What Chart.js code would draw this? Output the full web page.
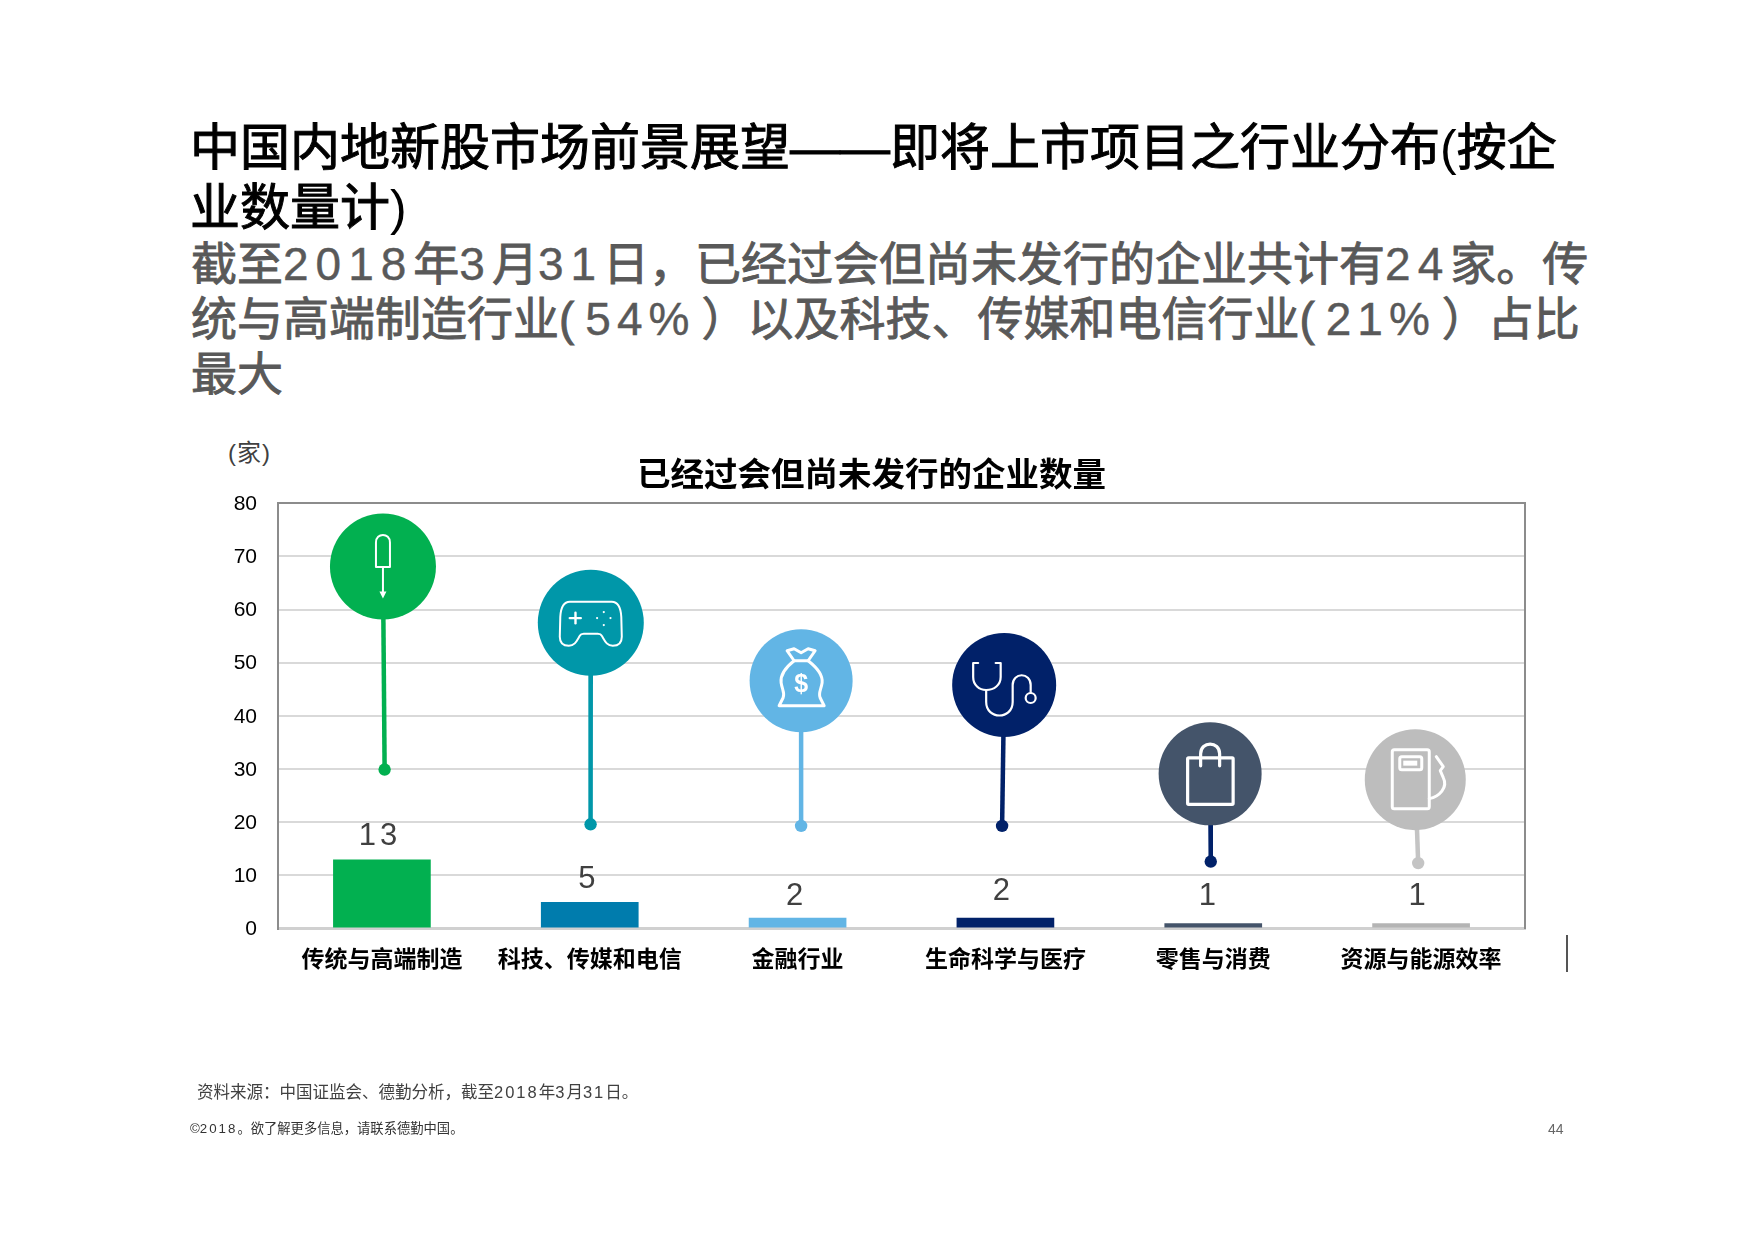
<!DOCTYPE html>
<html lang="zh">
<head>
<meta charset="utf-8">
<title>中国内地新股市场前景展望</title>
<script src="https://cdn.jsdelivr.net/npm/chart.js@4"></script>
<style>
    html, body { margin: 0; padding: 0; background: #fff; }
    #page { position: relative; width: 1754px; height: 1240px; overflow: hidden; font-family: 'Liberation Sans', 'Noto Sans CJK SC', sans-serif; }
    #chart { position: absolute; left: 0; top: 0; }
    .txt { position: absolute; white-space: nowrap; }
    .title { left: 190px; font-size: 50px; line-height: 60px; color: #000; -webkit-text-stroke: 1px #000; }
    .title span { -webkit-text-stroke: 0; }
    .sub { left: 191px; font-size: 46px; line-height: 56px; color: #595959; -webkit-text-stroke: 0.9px #595959; }
    .sub span { letter-spacing: 7px; -webkit-text-stroke: 0.4px #595959; }
    .sub span.pct { letter-spacing: 6px; padding-left: 11px; padding-right: 6px; }
    .note span { letter-spacing: 2px; }
</style>
</head>
<body>
<div id="page">
    <div class="txt title" style="top:118px">中国内地新股市场前景展望——即将上市项目之行业分布<span>(</span>按企</div>
    <div class="txt title" style="top:178px">业数量计<span>)</span></div>
    <div class="txt sub" style="top:236px">截至<span>2018</span>年<span>3</span>月<span>31</span>日，已经过会但尚未发行的企业共计有<span>24</span>家。传</div>
    <div class="txt sub" style="top:291px">统与高端制造行业(<span class="pct">54%</span>）以及科技、传媒和电信行业(<span class="pct">21%</span>）占比</div>
    <div class="txt sub" style="top:346px">最大</div>
    <div class="txt" style="left:228px;top:438px;font-size:24px;line-height:30px;letter-spacing:1px;color:#404040">(家)</div>
    <canvas id="chart" width="1754" height="1240"></canvas>
    <div style="position:absolute;left:1566px;top:935px;width:2px;height:37px;background:#555"></div>
    <div class="txt note" style="left:197px;top:1081px;font-size:16.5px;line-height:22px;color:#404040">资料来源：中国证监会、德勤分析，截至<span>2018</span>年<span>3</span>月<span>31</span>日。</div>
    <div class="txt note" style="left:190px;top:1119px;font-size:13.3px;line-height:20px;color:#333">©<span>2018</span>。欲了解更多信息，请联系德勤中国。</div>
    <div class="txt" style="left:1548px;top:1120px;font-size:14px;line-height:18px;color:#666">44</div>
</div>
<script>
    const categories = ['传统与高端制造', '科技、传媒和电信', '金融行业', '生命科学与医疗', '零售与消费', '资源与能源效率'];
    const companyCounts = [13, 5, 2, 2, 1, 1];

    // lollipop heads and dots
    const pinHeadValues = [68.1, 57.5, 46.6, 45.8, 29.1, 28];
    const pinDotValues = [29.9, 19.6, 19.3, 19.3, 12.6, 12.3];
    // horizontal place of the pins, in category slots (0 to 6)
    const pinHeadSlots = [0.505, 1.505, 2.517, 3.494, 4.485, 5.472];
    const pinDotSlots = [0.513, 1.504, 2.517, 3.484, 4.488, 5.486];

    const barColors = ['#02B050', '#007CAD', '#62B5E5', '#012169', '#44546A', '#B4B4B4'];
    const headColors = ['#02B050', '#0097A9', '#62B5E5', '#012169', '#44546A', '#BDBDBD'];
    const stemColors = ['#02B050', '#0097A9', '#62B5E5', '#012169', '#012169', '#C4C4C4'];
    const headRadii = [53, 53, 51.5, 52, 51.5, 50.5];

    const fontFamily = "'Liberation Sans', 'Noto Sans CJK SC', sans-serif";
    Chart.defaults.font.family = fontFamily;

    function line(ctx, pts) {
        ctx.beginPath();
        ctx.moveTo(pts[0][0], pts[0][1]);
        for (let i = 1; i < pts.length; i++) ctx.lineTo(pts[i][0], pts[i][1]);
        ctx.stroke();
    }

    function roundRect(ctx, x, y, w, h, r) {
        ctx.beginPath();
        ctx.roundRect(x, y, w, h, r);
        ctx.stroke();
    }

    // white pictograms, drawn around the head of each pin
    const icons = [
        function screwdriver(ctx) {
            ctx.lineWidth = 2;
            ctx.beginPath();
            ctx.moveTo(-7, 0.5);
            ctx.lineTo(-7, -24);
            ctx.bezierCurveTo(-7, -34, 7, -34, 7, -24);
            ctx.lineTo(7, 0.5);
            ctx.closePath();
            ctx.stroke();
            line(ctx, [[0, 0.5], [0, 26]]);
            ctx.beginPath();
            ctx.moveTo(-3.5, 25);
            ctx.lineTo(3.5, 25);
            ctx.lineTo(0, 32);
            ctx.closePath();
            ctx.fill();
        },
        function gamepad(ctx) {
            ctx.lineWidth = 2;
            ctx.beginPath();
            ctx.moveTo(-21, -21);
            ctx.lineTo(21, -21);
            ctx.bezierCurveTo(28, -21, 30, -14, 30.5, -6);
            ctx.lineTo(31, 14);
            ctx.bezierCurveTo(31, 21, 27, 23, 22, 23);
            ctx.bezierCurveTo(16, 23, 14, 18, 11, 13);
            ctx.quadraticCurveTo(10, 11, 7, 11);
            ctx.lineTo(-7, 11);
            ctx.quadraticCurveTo(-10, 11, -11, 13);
            ctx.bezierCurveTo(-14, 18, -16, 23, -22, 23);
            ctx.bezierCurveTo(-27, 23, -31, 21, -31, 14);
            ctx.lineTo(-30.5, -6);
            ctx.bezierCurveTo(-30, -14, -28, -21, -21, -21);
            ctx.closePath();
            ctx.stroke();
            ctx.lineWidth = 2.4;
            line(ctx, [[-21, -4.7], [-10, -4.7]]);
            line(ctx, [[-15.3, -10], [-15.3, 0.5]]);
            [[13, -10.7], [6.3, -4.7], [19.7, -4.7], [13, 2.3]].forEach(function(d) {
                ctx.beginPath();
                ctx.arc(d[0], d[1], 1.1, 0, Math.PI * 2);
                ctx.fill();
            });
        },
        function moneyBag(ctx) {
            ctx.lineWidth = 3;
            ctx.beginPath();
            ctx.moveTo(-7, -20);
            ctx.bezierCurveTo(-16, -13, -21, -6, -20, 2);
            ctx.bezierCurveTo(-19, 9, -16, 12, -18, 17);
            ctx.lineTo(-22, 25);
            ctx.lineTo(23, 25);
            ctx.lineTo(19, 17);
            ctx.bezierCurveTo(17, 12, 20, 9, 21, 2);
            ctx.bezierCurveTo(22, -6, 16, -13, 7, -20);
            ctx.stroke();
            ctx.beginPath();
            ctx.moveTo(-7, -20);
            ctx.lineTo(7, -20);
            ctx.lineTo(14, -30);
            ctx.lineTo(7, -32);
            ctx.lineTo(0, -28);
            ctx.lineTo(-7, -32);
            ctx.lineTo(-14, -30);
            ctx.closePath();
            ctx.stroke();
            ctx.font = 'bold 25px ' + fontFamily;
            ctx.textAlign = 'center';
            ctx.textBaseline = 'middle';
            ctx.fillText('$', 0, 4);
        },
        function stethoscope(ctx) {
            ctx.lineWidth = 2.2;
            ctx.beginPath();
            ctx.moveTo(-26, -22);
            ctx.lineTo(-31, -22);
            ctx.lineTo(-31, -8);
            ctx.bezierCurveTo(-31, 0, -25, 5, -18, 5);
            ctx.bezierCurveTo(-10, 5, -3.5, 0, -3.5, -8);
            ctx.lineTo(-3.5, -22);
            ctx.lineTo(-8.5, -22);
            ctx.stroke();
            ctx.beginPath();
            ctx.moveTo(-18, 5);
            ctx.lineTo(-18, 17);
            ctx.bezierCurveTo(-18, 35, 8.5, 35, 8.5, 17);
            ctx.lineTo(8.5, 0);
            ctx.bezierCurveTo(8.5, -13, 26.5, -13, 26.5, 0);
            ctx.lineTo(26.5, 8);
            ctx.stroke();
            ctx.beginPath();
            ctx.arc(26.5, 13, 5, 0, Math.PI * 2);
            ctx.stroke();
        },
        function bag(ctx) {
            ctx.lineWidth = 3.2;
            roundRect(ctx, -22.5, -16, 45.5, 46.5, 1);
            ctx.beginPath();
            ctx.moveTo(-9.5, -8);
            ctx.lineTo(-9.5, -20);
            ctx.bezierCurveTo(-9.5, -33, 9.5, -33, 9.5, -20);
            ctx.lineTo(9.5, -8);
            ctx.stroke();
        },
        function pump(ctx) {
            ctx.lineWidth = 3;
            roundRect(ctx, -23, -30, 37, 59, 2);
            roundRect(ctx, -15.5, -23, 22, 13, 2);
            ctx.fillRect(-12, -19, 14, 5);
            ctx.beginPath();
            ctx.moveTo(14, 19);
            ctx.bezierCurveTo(24, 17, 33, 8, 28, -2);
            ctx.lineTo(25, -9);
            ctx.lineTo(28, -13);
            ctx.lineTo(21, -23);
            ctx.stroke();
        }
    ];

    const pinIconsPlugin = {
        id: 'pinIcons',
        afterDatasetsDraw(chart) {
            const ctx = chart.ctx;
            icons.forEach(function(draw, i) {
                const head = chart.getDatasetMeta(i + 1).data[0];
                ctx.save();
                ctx.translate(head.x, head.y);
                ctx.strokeStyle = '#fff';
                ctx.fillStyle = '#fff';
                ctx.lineJoin = 'round';
                ctx.lineCap = 'round';
                draw(ctx);
                ctx.restore();
            });
        }
    };

    // the counts above the bars
    const barValuesPlugin = {
        id: 'barValues',
        afterDatasetsDraw(chart, args, opts) {
            const ctx = chart.ctx;
            chart.getDatasetMeta(0).data.forEach(function(bar, i) {
                ctx.save();
                ctx.font = '31px ' + fontFamily;
                ctx.fillStyle = '#404040';
                ctx.textAlign = 'center';
                ctx.textBaseline = 'middle';
                ctx.letterSpacing = '4px';
                ctx.fillText(String(companyCounts[i]), bar.x + opts.nudgeX[i], bar.y - opts.rise[i]);
                ctx.restore();
            });
        }
    };

    const pinDatasets = categories.map(function(name, i) {
        return {
            type: 'line',
            label: name,
            xAxisID: 'slots',
            data: [
                { x: pinHeadSlots[i], y: pinHeadValues[i] },
                { x: pinDotSlots[i], y: pinDotValues[i] }
            ],
            borderColor: stemColors[i],
            borderWidth: 4.5,
            pointBackgroundColor: [headColors[i], stemColors[i]],
            pointBorderWidth: 0,
            pointRadius: [headRadii[i], 6.2],
            order: 0
        };
    });

    new Chart(document.getElementById('chart'), {
        data: {
            labels: categories,
            datasets: [{
                type: 'bar',
                label: '已经过会但尚未发行的企业数量',
                data: companyCounts,
                backgroundColor: barColors,
                grouped: false,
                barPercentage: 0.47,
                categoryPercentage: 1,
                order: 1
            }].concat(pinDatasets)
        },
        options: {
            responsive: false,
            animation: false,
            layout: { padding: { left: 218, right: 229, top: 452.5, bottom: 251.5 } },
            scales: {
                x: {
                    grid: { display: false },
                    border: { color: '#D0D0D0', width: 3 },
                    ticks: { color: '#000', padding: 10, maxRotation: 0, font: { size: 23, weight: 'bold' } },
                    afterFit(axis) { axis.height = 60; }
                },
                slots: { type: 'linear', display: false, min: 0, max: 6 },
                y: {
                    min: 0,
                    max: 80,
                    ticks: { stepSize: 10, color: '#000', padding: 21, labelOffset: 1, font: { size: 21 } },
                    grid: {
                        drawTicks: false,
                        lineWidth: 2,
                        color: ctx => ctx.tick.value === 80 ? '#8C8C8C' : '#D9D9D9'
                    },
                    border: { color: '#8C8C8C', width: 2 },
                    afterFit(axis) { axis.width = 60; }
                },
                frame: {
                    type: 'linear',
                    position: 'right',
                    min: 0,
                    max: 80,
                    ticks: { display: false },
                    grid: { display: false, drawTicks: false },
                    border: { color: '#8C8C8C', width: 2 },
                    afterFit(axis) { axis.width = 0; }
                }
            },
            plugins: {
                legend: { display: false },
                tooltip: { enabled: false },
                title: {
                    display: true,
                    text: '已经过会但尚未发行的企业数量',
                    color: '#000',
                    fullSize: true,
                    font: { size: 33.5, weight: 'bold' },
                    padding: { top: 4, bottom: 6.5 }
                },
                barValues: {
                    nudgeX: [-2, -1, -1, -2, -4, -2],
                    rise: [22.5, 22.5, 21.5, 26.5, 26.5, 26.5]
                }
            }
        },
        plugins: [barValuesPlugin, pinIconsPlugin]
    });
</script>
</body>
</html>
